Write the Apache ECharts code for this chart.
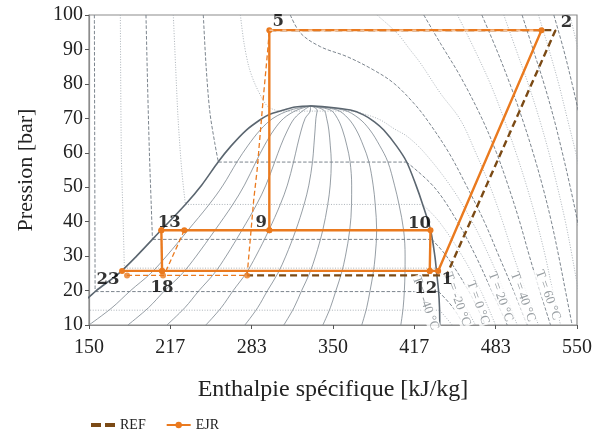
<!DOCTYPE html>
<html>
<head>
<meta charset="utf-8">
<script src="https://cdn.jsdelivr.net/npm/echarts@6/dist/echarts.min.js"></script>
<style>
  html, body { margin: 0; padding: 0; background: #ffffff; }
  #chart { width: 599px; height: 431px; }
</style>
</head>
<body>
<div id="chart"></div>
<script>
// ---------------- DATA ----------------
// axis tick labels
const xTickLabels = ['150', '217', '283', '350', '417', '483', '550'];
const yTickLabels = ['10', '20', '30', '40', '50', '60', '70', '80', '90', '100'];

// saturation dome of CO2 (h in kJ/kg, P in bar)
const domeLiqP = [10, 15, 18.1, 20, 25, 30, 37.5, 45, 50.6, 57.4, 62, 66.6, 70, 71, 72.4, 73.3, 73.6];
const domeLiqH = [118, 139, 150, 156, 174.5, 189, 209, 229, 242.3, 256, 266.5, 279, 292, 297, 309.6, 319, 331.5];
const domeVapP = [73.6, 73.3, 72.4, 71, 69, 66.6, 62, 57.4, 50.6, 45, 37.5, 30, 25, 20, 15, 10];
const domeVapH = [331.5, 345, 364.3, 375, 384, 391.6, 402, 410.3, 418, 423.5, 430, 433.5, 435, 436.5, 437.3, 437.5];

// constant-quality lines x = 0.1 ... 0.9
const qualityP = [10, 15, 20, 25, 30, 37.5, 45, 50.6, 57.4, 62, 66.6, 70, 72.4, 73.6];
const qual01 = [149.95, 168.8, 184.1, 200.6, 213.5, 231.1, 248.5, 259.9, 271.4, 280.1, 290.3, 300.8, 315.1, 331.5];
const qual02 = [181.9, 198.7, 212.1, 226.6, 237.9, 253.2, 267.9, 277.4, 286.9, 293.6, 301.5, 309.6, 320.5, 331.5];
const qual03 = [213.9, 228.5, 240.2, 252.7, 262.4, 275.3, 287.4, 295, 302.3, 307.1, 312.8, 318.4, 326, 331.5];
const qual04 = [245.8, 258.3, 268.2, 278.7, 286.8, 297.4, 306.8, 312.6, 317.7, 320.7, 324, 327.2, 331.5, 331.5];
const qual05 = [277.8, 288.2, 296.3, 304.8, 311.3, 319.5, 326.3, 330.2, 333.2, 334.3, 335.3, 336, 337, 331.5];
const qual06 = [309.7, 318, 324.3, 330.8, 335.7, 341.6, 345.7, 347.7, 348.6, 347.8, 346.6, 344.8, 342.4, 331.5];
const qual07 = [341.7, 347.8, 352.4, 356.9, 360.2, 363.7, 365.2, 365.3, 364, 361.4, 357.8, 353.6, 347.9, 331.5];
const qual08 = [373.6, 377.6, 380.4, 382.9, 384.6, 385.8, 384.6, 382.9, 379.4, 374.9, 369.1, 362.4, 353.4, 331.5];
const qual09 = [405.6, 407.5, 408.5, 409, 409.1, 407.9, 404.1, 400.4, 394.9, 388.4, 380.3, 371.2, 358.8, 331.5];

// isotherms [h, P]: compressed liquid, two-phase, vapour / supercritical
const isoM30Sat = [[136, 14.3], [437.4, 14.3]];
const isoM30Vap = [[437.4, 14.3], [443, 12], [447.7, 10]];
const isoM20Liq = [[154.4, 100], [154.7, 60], [155, 19.7]];
const isoM20Sat = [[155, 19.7], [436.6, 19.7]];
const isoM20Vap = [[436.6, 19.7], [448.5, 15], [457, 10]];
const isoM10Liq = [[175.7, 100], [176.5, 60], [178, 40], [179, 26.5]];
const isoM10Sat = [[179, 26.5], [434.6, 26.5]];
const isoM10Vap = [[434.6, 26.5], [450, 20], [459, 15], [466.8, 10]];
const iso0Liq = [[196.7, 100], [198, 80], [199.5, 60], [201, 45], [202, 34.85]];
const iso0Sat = [[202, 34.85], [431, 34.85]];
const iso0Vap = [[431, 34.85], [443, 30], [461, 20], [475, 10]];
const iso10Liq = [[219.1, 100], [221, 85], [223, 70], [226, 55], [229, 45]];
const iso10Sat = [[229, 45], [423.5, 45]];
const iso10Vap = [[423.5, 45], [437, 40], [456, 30], [471, 20], [483.2, 10]];
const iso20Liq = [[243.7, 100], [246, 85], [249, 72], [253, 63], [256, 57.3]];
const iso20Sat = [[256, 57.3], [410.3, 57.3]];
const iso20Vap = [[410.3, 57.3], [433, 50], [452, 40], [467, 30], [480, 20], [492.8, 10]];
const iso30Liq = [[274.1, 100], [277, 92], [281, 85], [286, 80], [292.7, 75.3], [297, 73.3], [305, 72.1]];
const iso30Sat = [[305, 72.1], [366, 72.1]];
const iso30Vap = [[366, 72.1], [378, 71], [389, 69.5], [400, 67], [411, 64.7], [425, 60], [447, 50], [464, 40], [478, 30], [490, 20], [501, 10]];
const iso40 = [[315, 100], [323.5, 94.7], [339.7, 90.8], [361.6, 87.9], [383.4, 84], [399.8, 80.2], [416.2, 74.4], [427.2, 69.5], [445, 60], [460, 50], [474, 40], [486, 30], [498, 20], [509.2, 10]];
const iso50 = [[386, 100], [402.6, 94.7], [413, 90], [421.7, 86], [438, 77.3], [454.5, 69.5], [467, 60], [479, 50], [489, 40], [498, 30], [508, 20], [518.4, 10]];
const iso60 = [[424.4, 100], [438, 91.8], [454.5, 82.1], [472, 70], [484, 60], [494, 50], [503, 40], [511, 30], [519.5, 20], [528.3, 10]];
const iso70 = [[452, 100], [466, 90], [479, 80], [490, 70], [500, 60], [509, 50], [517, 40], [524, 30], [530, 20], [536.5, 10]];
const iso80 = [[472, 100], [484, 90], [495, 80], [505, 70], [514, 60], [522, 50], [529, 40], [535, 30], [540.5, 20], [546, 10]];
const iso90 = [[490, 100], [500, 90], [510, 80], [519, 70], [527, 60], [534, 50], [540.5, 40], [546, 30], [551, 20], [555.5, 10]];
const iso100 = [[505, 100], [514, 90], [523, 80], [531, 70], [538, 60], [544.5, 50], [550.5, 40], [556, 30]];
const iso110 = [[518.4, 100], [527, 90], [535, 80], [542, 70], [549, 60], [555, 50]];
const iso120 = [[531, 100], [539, 90], [546, 80], [552.5, 70], [559, 60]];
const iso130 = [[544, 100], [551, 90], [557, 80]];

// isotherm labels
const isoLabelText = ['T = -40 °C', 'T = -20 °C', 'T = 0 °C', 'T = 20 °C', 'T = 40 °C', 'T = 60 °C'];
const isoLabelH = [425.8, 451.8, 468.8, 487.3, 505.7, 526.2];
const isoLabelP = [16.4, 17.5, 16.5, 18.2, 18.2, 18.7];

// EJR cycle (solid)
const ejrMainH = [177.1, 209.9, 429.3, 436.2, 520.9, 297.8, 297.8];
const ejrMainP = [25.7, 25.7, 25.7, 25.7, 95.6, 95.6, 37.5];
const ejrMidH = [209.3, 228.1, 297.8, 429.9, 429.3];
const ejrMidP = [37.5, 37.5, 37.5, 37.5, 25.7];
const ejrLeftH = [209.3, 209.9];
const ejrLeftP = [37.5, 25.7];

// ejector internal paths (orange dashed)
const ejectorH = [181.2, 210.7, 279.6, 285, 287.8, 292.7, 296.5, 297.8];
const ejectorP = [24.4, 24.4, 24.4, 46.3, 55, 75.3, 89.8, 95.6];
const ejectorDotH = [181.2, 210.7, 279.6];
const ejectorDotP = [24.4, 24.4, 24.4];
const suctionH = [228.1, 212.5];
const suctionP = [37.5, 25.2];
const topOverlayH = [297.8, 520.9];
const topOverlayP = [95.6, 95.6];

// REF cycle (dashed)
const refH = [297.8, 532.4, 443, 279.6];
const refP = [95.6, 95.6, 24.4, 24.4];

// state point labels
const stateNames = ['1', '2', '5', '9', '10', '12', '13', '18', '23'];
const stateH = [436.2, 532.4, 297.8, 297.8, 429.9, 429.3, 209.3, 209.9, 177.1];
const stateP = [25.7, 95.6, 95.6, 37.5, 37.5, 25.7, 37.5, 25.7, 25.7];

// ---------------- STYLE ----------------
const FONT = '"Liberation Serif", "DejaVu Serif", serif';
const ORANGE = '#ea7a1f';
const BROWN = '#7b4a15';
const labelOffsets = {
  '1': [9, 9], '2': [11, -7], '5': [9, -8], '9': [-8, -8], '10': [-11, -7],
  '12': [-4, 18], '13': [8, -8], '18': [0, 17], '23': [-14, 9]
};
const dashedIso = { color: '#6d7781', width: 0.9, type: [3.5, 1.8] };
const dottedIso = { color: '#a3aab1', width: 0.9, type: [1, 1.6] };
const qualStyle = { color: '#7b858e', width: 0.8 };
const domeStyle = { color: '#5b6670', width: 1.6 };

function pairs(hs, ps) { return hs.map((h, i) => [h, ps[i]]); }
function bg(data, style, smooth) {
  return { type: 'line', data: data, symbol: 'none', silent: true, smooth: smooth,
           lineStyle: style, z: 1, clip: true, animation: false };
}

const series = [];
// isotherms
const isoSets = [
  [-30, null, isoM30Sat, isoM30Vap],
  [-20, isoM20Liq, isoM20Sat, isoM20Vap],
  [-10, isoM10Liq, isoM10Sat, isoM10Vap],
  [0, iso0Liq, iso0Sat, iso0Vap],
  [10, iso10Liq, iso10Sat, iso10Vap],
  [20, iso20Liq, iso20Sat, iso20Vap],
  [30, iso30Liq, iso30Sat, iso30Vap],
  [40, null, null, iso40], [50, null, null, iso50], [60, null, null, iso60],
  [70, null, null, iso70], [80, null, null, iso80], [90, null, null, iso90],
  [100, null, null, iso100], [110, null, null, iso110], [120, null, null, iso120],
  [130, null, null, iso130]
];
isoSets.forEach(([T, liq, sat, vap]) => {
  const st = (T % 20 === 0) ? dashedIso : dottedIso;
  if (liq) series.push(bg(liq, st, 0.3));
  if (sat) series.push(bg(sat, st, false));
  if (vap) series.push(bg(vap, st, 0.35));
});
// quality lines
[qual01, qual02, qual03, qual04, qual05, qual06, qual07, qual08, qual09].forEach(q => {
  series.push(bg(pairs(q, qualityP), qualStyle, 0.35));
});
// dome
series.push(bg(pairs(domeLiqH, domeLiqP).concat(pairs(domeVapH, domeVapP)), domeStyle, 0.3));

// REF
series.push({
  name: 'REF', type: 'line', data: pairs(refH, refP), symbol: 'none', z: 3, animation: false,
  lineStyle: { color: BROWN, width: 2.4, type: [7, 4] }, itemStyle: { color: BROWN }
});
// ejector internal dashed paths
series.push({
  type: 'line', data: pairs(ejectorH, ejectorP), symbol: 'none', z: 4, silent: true, animation: false,
  lineStyle: { color: ORANGE, width: 1.3, type: [5, 3] }
});
series.push({
  type: 'line', data: pairs(suctionH, suctionP), symbol: 'none', z: 4, silent: true, animation: false,
  lineStyle: { color: ORANGE, width: 1.3, type: [5, 3] }
});
series.push({
  type: 'scatter', data: pairs(ejectorDotH, ejectorDotP), symbol: 'circle', symbolSize: 6, z: 4,
  silent: true, animation: false, itemStyle: { color: ORANGE }
});
// EJR
[[ejrMainH, ejrMainP], [ejrMidH, ejrMidP], [ejrLeftH, ejrLeftP]].forEach(([hs, ps]) => {
  series.push({
    name: 'EJR', type: 'line', data: pairs(hs, ps), symbol: 'circle', symbolSize: 6, showSymbol: true,
    z: 5, animation: false,
    lineStyle: { color: ORANGE, width: 2.4 }, itemStyle: { color: ORANGE }
  });
});
series.push({
  type: 'line', data: pairs(topOverlayH, topOverlayP), symbol: 'none', z: 6, silent: true, animation: false,
  lineStyle: { color: 'rgba(255,255,255,0.85)', width: 1, type: [4, 9] }
});
// isotherm labels
series.push({
  type: 'scatter', silent: true, animation: false, z: 7, symbol: 'circle', symbolSize: 2,
  itemStyle: { color: 'rgba(0,0,0,0)' },
  data: isoLabelText.map((t, i) => ({ name: t, value: [isoLabelH[i], isoLabelP[i]] })),
  label: { show: true, position: 'inside', formatter: (p) => p.name, rotate: -70, fontFamily: FONT,
           fontSize: 13, color: '#7d848a', backgroundColor: '#ffffff', padding: [0, 1] },
  labelLayout: { hideOverlap: false }
});
// state labels (one series each so each gets its own offset)
stateNames.forEach((n, i) => {
  series.push({
    type: 'scatter', silent: true, animation: false, z: 10, symbol: 'circle', symbolSize: 2,
    itemStyle: { color: 'rgba(0,0,0,0)' },
    data: [{ name: n, value: [stateH[i], stateP[i]] }],
    label: { show: true, position: 'inside', offset: labelOffsets[n], formatter: (p) => p.name,
             fontFamily: '"DejaVu Serif", serif', fontWeight: 'bold', fontSize: 16.5, color: '#000' }
  });
});

const chart = echarts.init(document.getElementById('chart'), null, { renderer: 'canvas', width: 599, height: 431 });
chart.setOption({
  animation: false,
  backgroundColor: '#ffffff',
  grid: { left: 89, right: 22, top: 15, bottom: 106, show: true, borderColor: '#8c8c8c', borderWidth: 1.2 },
  legend: {
    data: [
      { name: 'REF', icon: 'path://M0,0H10V4H0Z M14,0H24V4H14Z', itemStyle: { color: BROWN } },
      { name: 'EJR' }
    ],
    left: 86, top: 413, itemWidth: 24, itemHeight: 8, itemGap: 20,
    textStyle: { fontFamily: FONT, fontSize: 14, color: '#222' }
  },
  xAxis: {
    type: 'value', min: 150, max: 550, interval: 400 / 6,
    axisLine: { show: true, lineStyle: { color: '#8c8c8c', width: 1.2 } },
    axisTick: { show: true, length: 4, lineStyle: { color: '#555' } },
    splitLine: { show: false },
    axisLabel: { fontFamily: FONT, fontSize: 20, color: '#222', margin: 13, showMinLabel: true, showMaxLabel: true,
                 formatter: (v, i) => xTickLabels[i] !== undefined ? xTickLabels[i] : String(Math.round(v)) },
    name: 'Enthalpie spécifique [kJ/kg]', nameLocation: 'middle', nameGap: 53,
    nameTextStyle: { fontFamily: FONT, fontSize: 24, color: '#222' }
  },
  yAxis: {
    type: 'value', min: 10, max: 100, interval: 10,
    axisLine: { show: true, lineStyle: { color: '#8c8c8c', width: 1.2 } },
    axisTick: { show: true, length: 4, lineStyle: { color: '#555' } },
    splitLine: { show: false },
    axisLabel: { fontFamily: FONT, fontSize: 20, color: '#222', margin: 6,
                 formatter: (v, i) => yTickLabels[i] !== undefined ? yTickLabels[i] : String(v) },
    name: 'Pression [bar]', nameLocation: 'middle', nameGap: 52,
    nameTextStyle: { fontFamily: FONT, fontSize: 22, color: '#222' }
  },
  series: series
});
</script>
</body>
</html>
